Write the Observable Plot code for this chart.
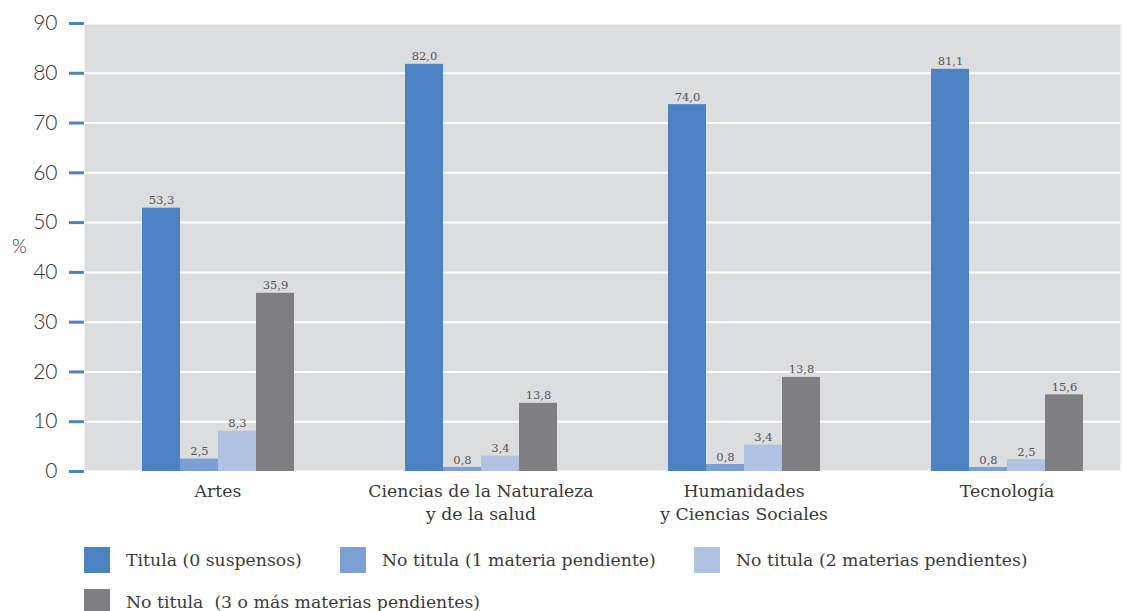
<!DOCTYPE html>
<html>
<head>
<meta charset="utf-8">
<script src="https://cdn.jsdelivr.net/npm/d3@7"></script>
<script src="https://cdn.jsdelivr.net/npm/@observablehq/plot@0.6"></script>
<style>
  body { margin: 0; background: #fff; }
  #chart { position: relative; width: 1122px; height: 611px; overflow: hidden; }
  .legend { position: absolute; left: 0; top: 0; width: 1122px; font-family: "DejaVu Serif", serif; font-size: 17.3px; color: #3a3a3a; }
  .item { position: absolute; display: flex; align-items: center; white-space: pre; }
  .sw { width: 26px; height: 26px; margin-right: 16px; }
</style>
</head>
<body>
<div id="chart"></div>
<script>
const groups = ["Artes", "Ciencias de la Naturaleza\ny de la salud", "Humanidades\ny Ciencias Sociales", "Tecnología"];
const series = ["Titula (0 suspensos)", "No titula (1 materia pendiente)", "No titula (2 materias pendientes)", "No titula  (3 o más materias pendientes)"];
const colors = ["#4a82c3", "#7ca0d4", "#b0c3e3", "#7f7f83"];
// bar heights as drawn
const titula0 = [52.9, 81.8, 73.7, 80.8];
const noTitula1 = [2.5, 0.8, 1.4, 0.8];
const noTitula2 = [8.1, 3.1, 5.3, 2.4];
const noTitula3 = [35.8, 13.7, 18.9, 15.4];
// labels as printed
const labels0 = [53.3, 82.0, 74.0, 81.1];
const labels1 = [2.5, 0.8, 0.8, 0.8];
const labels2 = [8.3, 3.4, 3.4, 2.5];
const labels3 = [35.9, 13.8, 13.8, 15.6];
const yTicks = [0, 10, 20, 30, 40, 50, 60, 70, 80, 90];

const values = [titula0, noTitula1, noTitula2, noTitula3];
const labels = [labels0, labels1, labels2, labels3];
const rows = [];
series.forEach((s, i) => groups.forEach((g, j) => rows.push({group: g, series: s, si: i, value: values[i][j], label: labels[i][j]})));
const fmt = v => v.toFixed(1).replace(".", ",");
const serif = "DejaVu Serif, serif";

const marks = [
  Plot.frame({fill: "#dcdddf", stroke: null}),
  Plot.gridY(yTicks, {stroke: "#fff", strokeOpacity: 1, strokeWidth: 2}),
  Plot.axisY(yTicks, {tickSize: 15, stroke: "#4a82c3", strokeWidth: 3, text: null, label: null, tickPadding: 0}),
  Plot.axisY(yTicks, {tickSize: 0, tickPadding: 27, fontSize: 21, fill: "#2e2e2e", label: null, fontFamily: "Lato, sans-serif", fontWeight: 300}),
  Plot.axisX({tickSize: 0, tickPadding: 9, fontSize: 17.3, fill: "#383838", label: null, lineHeight: 1.35, fontFamily: serif}),
  Plot.text(["%"], {frameAnchor: "left", dx: -65, dy: -1, textAnchor: "middle", fontSize: 19, fill: "#2e2e2e", fontFamily: "Lato, sans-serif", fontWeight: 300})
];
series.forEach((s, i) => {
  const d = rows.filter(r => r.si === i);
  marks.push(Plot.barY(d, {x: "group", y: "value", fill: colors[i], insetLeft: 56 + 38 * i, insetRight: 169 - 38 * i}));
  marks.push(Plot.text(d, {x: "group", y: "value", text: r => fmt(r.label), dx: -56.5 + 38 * i, dy: -4, lineAnchor: "bottom", fontSize: 11.5, fill: "#555", fontFamily: serif}));
});

const svg = Plot.plot({
  width: 1122,
  height: 530,
  marginTop: 23,
  marginBottom: 59,
  marginLeft: 84,
  marginRight: 2,
  x: {domain: groups, range: [85.5, 1137.5], padding: 0, axis: null},
  y: {domain: [0, 90], axis: null},
  marks
});
const chart = document.getElementById("chart");
chart.appendChild(svg);
svg.style.position = "absolute";
svg.style.left = "0";
svg.style.top = "0";

const legend = document.createElement("div");
legend.className = "legend";
const pos = [[84, 547], [340, 547], [694, 547], [84, 589]];
series.forEach((s, i) => {
  const it = document.createElement("div");
  it.className = "item";
  it.style.left = pos[i][0] + "px";
  it.style.top = pos[i][1] + "px";
  const sw = document.createElement("span");
  sw.className = "sw";
  sw.style.background = colors[i];
  const tx = document.createElement("span");
  tx.textContent = s;
  it.appendChild(sw);
  it.appendChild(tx);
  legend.appendChild(it);
});
chart.appendChild(legend);
</script>
</body>
</html>
